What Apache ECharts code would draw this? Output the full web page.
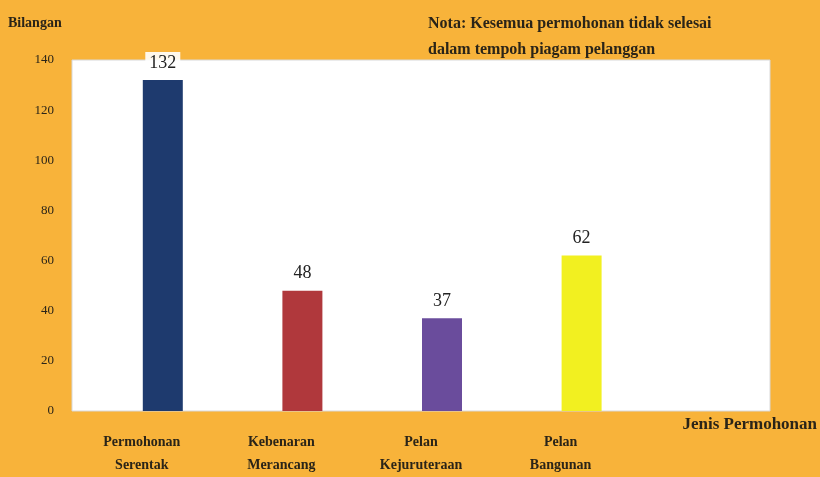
<!DOCTYPE html>
<html>
<head>
<meta charset="utf-8">
<script src="https://cdn.jsdelivr.net/npm/echarts@6/dist/echarts.min.js"></script>
<style>
  html, body { margin: 0; padding: 0; background: #F8B33A; }
  #chart { width: 820px; height: 477px; }
</style>
</head>
<body>
<div id="chart"></div>
<script>
// data
const categories = ['Permohonan\nSerentak', 'Kebenaran\nMerancang', 'Pelan\nKejuruteraan', 'Pelan\nBangunan', ''];
const counts = [132, 48, 37, 62, null];
const barColors = ['#1E3A6E', '#B0383C', '#6A4C9C', '#F2F020'];
const yTicks = [0, 20, 40, 60, 80, 100, 120, 140];
const note = 'Nota: Kesemua permohonan tidak selesai\ndalam tempoh piagam pelanggan';

const font = 'Liberation Serif';

let chart = echarts.init(document.getElementById('chart'));
chart.setOption({
  backgroundColor: '#F8B33A',
  textStyle: { fontFamily: font },
  title: {
    text: note,
    left: 423,
    top: 6,
    textStyle: { fontSize: 16, fontWeight: 'bold', color: '#2a2418', lineHeight: 26, fontFamily: font }
  },
  grid: {
    left: 72,
    right: 47,
    top: 60,
    bottom: 64,
    show: true,
    backgroundColor: '#ffffff',
    borderColor: '#d8d8d8',
    borderWidth: 1
  },
  xAxis: {
    type: 'category',
    data: categories,
    name: 'Jenis Permohonan',
    nameLocation: 'end',
    nameGap: 0,
    nameTextStyle: {
      fontSize: 17, fontWeight: 'bold', color: '#2a2418', fontFamily: font,
      align: 'right', verticalAlign: 'top', padding: [5, -47, 0, 0]
    },
    axisLine: { show: false },
    axisTick: { show: false },
    axisLabel: {
      interval: 0,
      margin: 20,
      fontSize: 14,
      fontWeight: 'bold',
      color: '#2a2418',
      lineHeight: 23,
      fontFamily: font
    }
  },
  yAxis: {
    type: 'value',
    min: 0,
    max: yTicks[yTicks.length - 1],
    interval: yTicks[1] - yTicks[0],
    name: 'Bilangan',
    nameLocation: 'end',
    nameGap: 30,
    nameTextStyle: {
      fontSize: 14, fontWeight: 'bold', color: '#2a2418', fontFamily: font,
      align: 'left', padding: [0, 0, 0, -64]
    },
    axisLine: { show: false },
    axisTick: { show: false },
    splitLine: { show: false },
    axisLabel: { fontSize: 13, color: '#2a2418', margin: 18, fontFamily: font }
  },
  series: [
    {
      // empty spacer series so the real bars sit right of the category centre
      type: 'bar',
      data: [],
      barWidth: 40,
      barGap: '5%'
    },
    {
      type: 'bar',
      data: counts.map((v, i) => ({ value: v, itemStyle: { color: barColors[i] } })),
      barWidth: 40,
      barGap: '5%',
      label: {
        show: true,
        position: 'top',
        distance: 6,
        fontSize: 18,
        color: '#222',
        fontFamily: font,
        backgroundColor: 'rgba(255,255,255,0.9)',
        padding: [2, 4]
      }
    }
  ]
});
</script>
</body>
</html>
